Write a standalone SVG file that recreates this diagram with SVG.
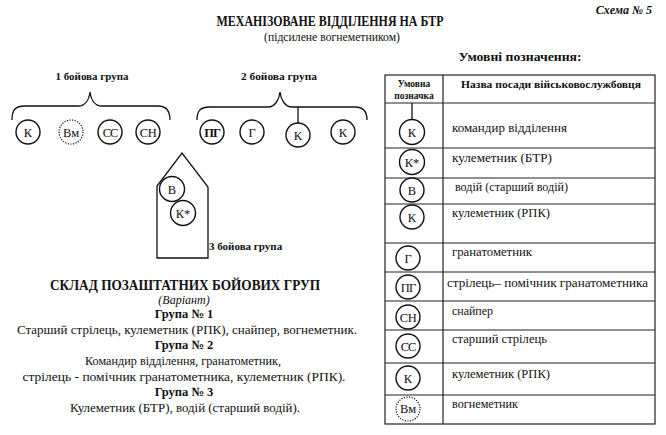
<svg xmlns="http://www.w3.org/2000/svg" width="666" height="435" viewBox="0 0 666 435" font-family="'Liberation Serif', 'DejaVu Serif', serif">
<style>
text{font-family:'Liberation Serif','DejaVu Serif',serif;fill:#111}
.t{font-size:14px;font-weight:bold}
.st{font-size:12px}
.lbl{font-size:11px;font-weight:bold}
.c{fill:#fff;stroke:#111;stroke-width:1.4}
.cd{fill:#fff;stroke:#111;stroke-width:1.2;stroke-dasharray:1.2 1.4}
.ct{font-size:12.5px;text-anchor:middle}
.ln{fill:none;stroke:#111;stroke-width:1.3}
.tb{fill:none;stroke:#222;stroke-width:1.2}
.tt{font-size:13px}
.bt{font-size:12.5px}
.b{font-weight:bold}
.m{text-anchor:middle}
</style>
<text x="652" y="14" font-size="12" font-style="italic" font-weight="bold" text-anchor="end">Схема № 5</text>
<text class="t m" x="330" y="26" textLength="227" lengthAdjust="spacingAndGlyphs">МЕХАНІЗОВАНЕ ВІДДІЛЕННЯ НА БТР</text>
<text class="st m" x="332" y="41" textLength="136" lengthAdjust="spacingAndGlyphs">(підсилене вогнеметником)</text>
<text x="520" y="61" font-size="12.5" font-weight="bold" text-anchor="middle" textLength="123" lengthAdjust="spacingAndGlyphs">Умовні позначення:</text>

<text class="lbl m" x="92" y="80" textLength="73" lengthAdjust="spacingAndGlyphs">1 бойова група</text>
<text class="lbl m" x="279" y="80" textLength="76" lengthAdjust="spacingAndGlyphs">2 бойова група</text>

<g id="connectors">
<path class="ln" d="M12,120 C12,110 15,106 25,106 L78,106 C85,106 89,100 90,92 C91,100 95,106 102,106 L158,106 C166,106 170,110 170,120"/>
<path class="ln" d="M197,120 C197,111 200,107 210,107 L268,107 C275,107 279,100 280,92 C281,100 285,107 292,107 L355,107 C363,107 367,111 367,120"/>
<line class="ln" x1="298" y1="107" x2="298" y2="123"/>
</g>

<g id="g1-k"><circle class="c" cx="28" cy="132" r="12"/><text class="ct" x="28" y="136.5">К</text></g>
<g id="g1-vm"><circle class="cd" cx="71" cy="132" r="12"/><text class="ct" x="71" y="136.5" font-size="11">Вм</text></g>
<g id="g1-ss"><circle class="c" cx="110" cy="132" r="12"/><text class="ct" x="110" y="136.5" font-size="11.5" letter-spacing="-1">СС</text></g>
<g id="g1-sn"><circle class="c" cx="148" cy="132" r="12"/><text class="ct" x="148" y="136.5" font-size="11.5" letter-spacing="-0.5">СН</text></g>

<g id="g2-pg"><circle class="c" cx="212" cy="132" r="12"/><text class="ct" x="212" y="136.5" font-size="11.5" letter-spacing="-1" font-weight="bold">ПГ</text></g>
<g id="g2-g"><circle class="c" cx="252" cy="132" r="12"/><text class="ct" x="252" y="136.5">Г</text></g>
<g id="g2-k1"><circle class="c" cx="298" cy="135" r="12"/><text class="ct" x="298" y="139.5">К</text></g>
<g id="g2-k2"><circle class="c" cx="343" cy="132" r="12"/><text class="ct" x="343" y="136.5">К</text></g>

<g id="btr">
<path class="ln" d="M157,258 L157,186 L182,153 L208,187 L208,258 Z"/>
<circle class="c" cx="172" cy="189" r="12.5"/><text class="ct" x="172" y="193.5">В</text>
<circle class="c" cx="183" cy="213" r="12.5"/><text class="ct" x="183" y="217.5">К*</text>
<text class="lbl" x="209" y="250">3 бойова група</text>
</g>

<g id="composition">
<text class="m b" x="185" y="290" font-size="14" textLength="270" lengthAdjust="spacingAndGlyphs">СКЛАД ПОЗАШТАТНИХ БОЙОВИХ ГРУП</text>
<text class="m" x="184" y="304" font-size="12" font-style="italic">(Варіант)</text>
<text class="m b" x="184" y="318" font-size="12.5">Група № 1</text>
<text class="m bt" x="187" y="334" textLength="340" lengthAdjust="spacingAndGlyphs">Старший стрілець, кулеметник (РПК), снайпер, вогнеметник.</text>
<text class="m b" x="184" y="349" font-size="12.5">Група № 2</text>
<text class="m bt" x="183" y="365" textLength="196" lengthAdjust="spacingAndGlyphs">Командир відділення, гранатометник,</text>
<text class="m bt" x="184" y="381" textLength="323" lengthAdjust="spacingAndGlyphs">стрілець - помічник гранатометника, кулеметник (РПК).</text>
<text class="m b" x="184" y="396" font-size="12.5">Група № 3</text>
<text class="m bt" x="185" y="412" textLength="230" lengthAdjust="spacingAndGlyphs">Кулеметник (БТР), водій (старший водій).</text>
</g>

<g id="legend">
<rect class="tb" x="385" y="75" width="270" height="349"/>
<line class="tb" x1="443" y1="75" x2="443" y2="424"/>
<line class="tb" x1="385" y1="103" x2="655" y2="103"/>
<line class="tb" x1="385" y1="148" x2="655" y2="148"/>
<line class="tb" x1="385" y1="178" x2="655" y2="178"/>
<line class="tb" x1="385" y1="204" x2="655" y2="204"/>
<line class="tb" x1="385" y1="243" x2="655" y2="243"/>
<line class="tb" x1="385" y1="272" x2="655" y2="272"/>
<line class="tb" x1="385" y1="301" x2="655" y2="301"/>
<line class="tb" x1="385" y1="330" x2="655" y2="330"/>
<line class="tb" x1="385" y1="363" x2="655" y2="363"/>
<line class="tb" x1="385" y1="395" x2="655" y2="395"/>
<text class="m b" x="414" y="87" font-size="9.5">Умовна</text>
<text class="m b" x="414" y="99" font-size="9.5">позначка</text>
<text class="b" x="461" y="88" font-size="10.5" textLength="180" lengthAdjust="spacingAndGlyphs">Назва посади військовослужбовця</text>
<line class="ln" x1="412" y1="103" x2="412" y2="119"/>
<g id="lg-1"><circle class="c" cx="412" cy="132" r="12.5"/><text class="ct" x="412" y="136.5">К</text><text class="tt" x="452" y="132" textLength="115" lengthAdjust="spacingAndGlyphs">командир відділення</text></g>
<g id="lg-2"><circle class="c" cx="412" cy="162" r="12.5"/><text class="ct" x="412" y="166.5">К*</text><text class="tt" x="452" y="162" textLength="100" lengthAdjust="spacingAndGlyphs">кулеметник  (БТР)</text></g>
<g id="lg-3"><circle class="c" cx="412" cy="190" r="12"/><text class="ct" x="412" y="194.5">В</text><text class="tt" x="455" y="191" textLength="113" lengthAdjust="spacingAndGlyphs">водій (старший водій)</text></g>
<g id="lg-4"><circle class="c" cx="412" cy="217" r="12"/><text class="ct" x="412" y="221.5">К</text><text class="tt" x="452" y="217" textLength="98" lengthAdjust="spacingAndGlyphs">кулеметник (РПК)</text></g>
<g id="lg-5"><circle class="c" cx="408" cy="258" r="12"/><text class="ct" x="408" y="262.5">Г</text><text class="tt" x="452" y="256" textLength="80" lengthAdjust="spacingAndGlyphs">гранатометник</text></g>
<g id="lg-6"><circle class="c" cx="408" cy="287" r="12"/><text class="ct" x="408" y="291.5" font-size="11.5" letter-spacing="-1">ПГ</text><text class="tt" x="447" y="287" textLength="201" lengthAdjust="spacingAndGlyphs">стрілець– помічник гранатометника</text></g>
<g id="lg-7"><circle class="c" cx="408" cy="317" r="12"/><text class="ct" x="408" y="321.5" font-size="11.5" letter-spacing="-0.5">СН</text><text class="tt" x="452" y="315" textLength="41" lengthAdjust="spacingAndGlyphs">снайпер</text></g>
<g id="lg-8"><circle class="c" cx="408" cy="346" r="12"/><text class="ct" x="408" y="350.5" font-size="11.5" letter-spacing="-1">СС</text><text class="tt" x="452" y="343" textLength="95" lengthAdjust="spacingAndGlyphs">старший стрілець</text></g>
<g id="lg-9"><circle class="c" cx="408" cy="378" r="12"/><text class="ct" x="408" y="382.5">К</text><text class="tt" x="452" y="378" textLength="98" lengthAdjust="spacingAndGlyphs">кулеметник (РПК)</text></g>
<g id="lg-10"><circle class="cd" cx="408" cy="409" r="12"/><text class="ct" x="408" y="413" font-size="10.5">Вм</text><text class="tt" x="452" y="408" textLength="66" lengthAdjust="spacingAndGlyphs">вогнеметник</text></g>
</g>
</svg>
